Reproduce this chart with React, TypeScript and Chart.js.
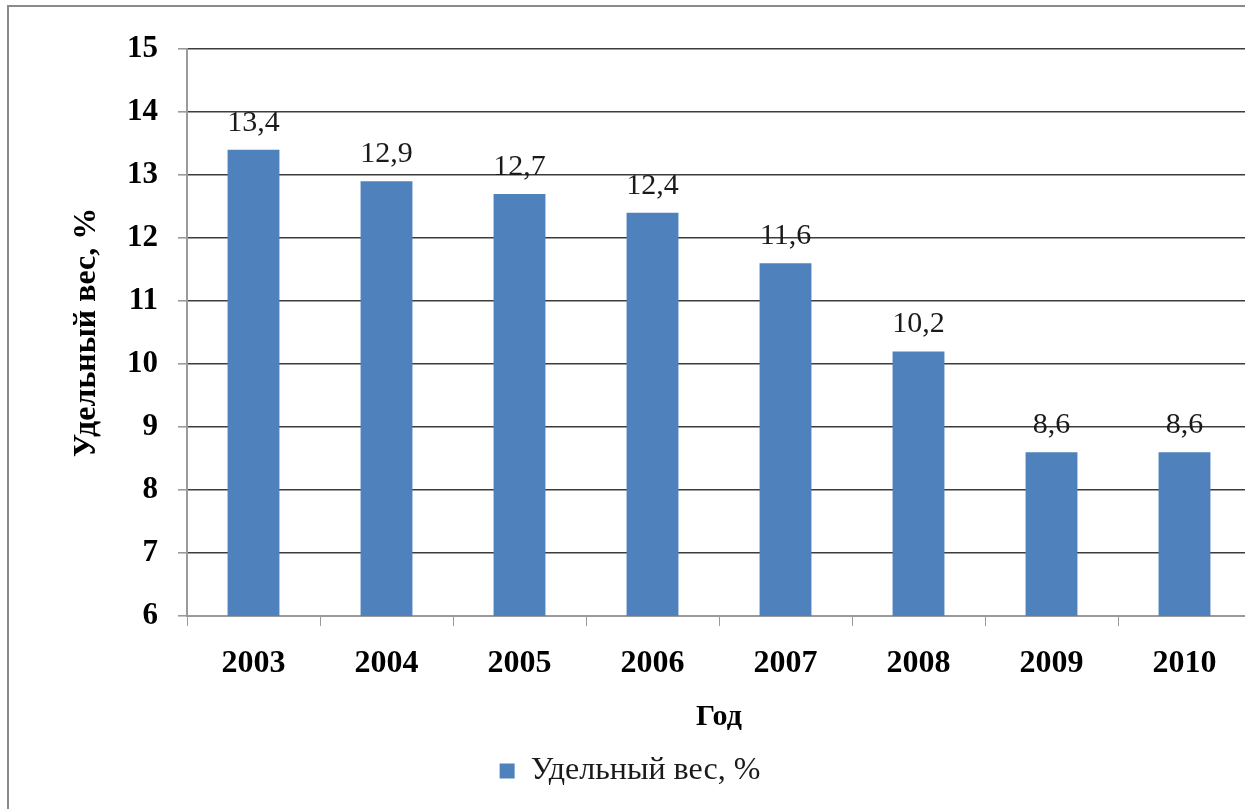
import React, { useEffect, useRef } from "react";
import { Chart, registerables } from "chart.js";

Chart.register(...registerables);

const years = ["2003", "2004", "2005", "2006", "2007", "2008", "2009", "2010"];
const shares = [13.4, 12.9, 12.7, 12.4, 11.6, 10.2, 8.6, 8.6];
const seriesName = "Удельный вес, %";
const yTitle = "Удельный вес, %";
const xTitle = "Год";
const yMin = 6;
const yMax = 15;

const SERIF = "'Liberation Serif', 'Times New Roman', serif";

const whiteBg = {
  id: "whiteBg",
  beforeDraw(chart: any) {
    const { ctx, width, height } = chart;
    ctx.save();
    ctx.fillStyle = "#ffffff";
    ctx.fillRect(0, 0, width, height);
    ctx.restore();
  },
};

const valueLabels = {
  id: "valueLabels",
  afterDatasetsDraw(chart: any) {
    const { ctx } = chart;
    const meta = chart.getDatasetMeta(0);
    const data = chart.data.datasets[0].data as number[];
    ctx.save();
    ctx.font = `normal 30px ${SERIF}`;
    ctx.fillStyle = "#1a1a1a";
    ctx.textAlign = "center";
    ctx.textBaseline = "alphabetic";
    meta.data.forEach((el: any, i: number) => {
      const txt = data[i].toFixed(1).replace(".", ",");
      ctx.fillText(txt, el.x, el.y - 19);
    });
    ctx.restore();
  },
};

export default function App() {
  const ref = useRef<HTMLCanvasElement | null>(null);

  useEffect(() => {
    if (!ref.current) return;
    const chart = new Chart(ref.current, {
      type: "bar",
      data: {
        labels: years,
        datasets: [
          {
            label: seriesName,
            data: shares,
            backgroundColor: "#4F81BD",
            borderWidth: 0,
            categoryPercentage: 1,
            barPercentage: 0.39,
          },
        ],
      },
      options: {
        animation: false,
        responsive: false,
        devicePixelRatio: 1,
        layout: { padding: { top: 42, left: 0, right: 20, bottom: 20 } },
        plugins: {
          tooltip: { enabled: false },
          legend: {
            position: "bottom",
            labels: {
              boxWidth: 15,
              boxHeight: 15,
              color: "#1a1a1a",
              font: { family: SERIF, size: 32, weight: "normal" },
            },
          },
        },
        scales: {
          x: {
            afterFit: (s: any) => {
              s.height = 129;
            },
            grid: {
              offset: true,
              drawOnChartArea: false,
              drawTicks: true,
              tickLength: 10,
              tickColor: "#9a9a9a",
            },
            border: { display: true, color: "#9a9a9a", width: 2 },
            ticks: {
              color: "#000",
              padding: 19,
              font: { family: SERIF, size: 32, weight: "bold" },
            },
            title: {
              display: true,
              text: xTitle,
              color: "#000",
              padding: { top: 0, bottom: 10 },
              font: { family: SERIF, size: 30, weight: "bold" },
            },
          },
          y: {
            min: yMin,
            max: yMax,
            afterFit: (s: any) => {
              s.width = 178;
            },
            ticks: {
              stepSize: 1,
              color: "#000",
              padding: 20,
              font: { family: SERIF, size: 31, weight: "bold" },
            },
            grid: {
              color: (c: any) => (c.tick && c.tick.value === yMin ? "rgba(0,0,0,0)" : "#3c3c3c"),
              lineWidth: 1.6,
              tickLength: 9,
              tickColor: "#9a9a9a",
            },
            border: { display: true, color: "#9a9a9a", width: 2 },
            title: {
              display: true,
              text: yTitle,
              color: "#000",
              padding: { top: 59, bottom: 0 },
              font: { family: SERIF, size: 32, weight: "bold" },
            },
          },
        },
      },
      plugins: [whiteBg, valueLabels],
    });
    return () => chart.destroy();
  }, []);

  return (
    <div
      style={{
        position: "absolute",
        left: 7,
        top: 5,
        width: 1236,
        height: 802,
        overflow: "hidden",
        borderTop: "2px solid #8a8a8a",
        borderLeft: "2px solid #8a8a8a",
      }}
    >
      <canvas ref={ref} width={1262} height={810} style={{ display: "block", width: 1262, height: 810 }} />
    </div>
  );
}
